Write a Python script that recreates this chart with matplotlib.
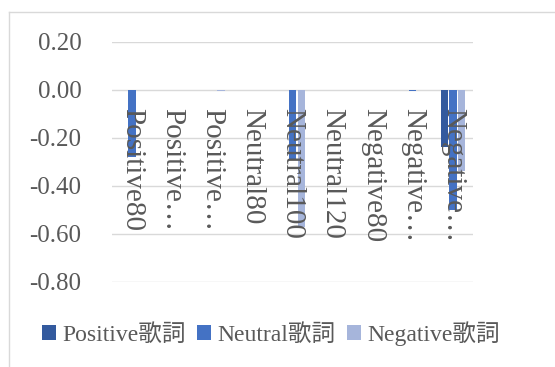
import matplotlib.pyplot as plt
import numpy as np
from matplotlib.lines import Line2D

# Data
tick_labels = ["Positive80", "Positive…", "Positive…", "Neutral80", "Neutral100",
               "Neutral120", "Negative80", "Negative…", "Negative…"]
series_names = ["Positive歌詞", "Neutral歌詞", "Negative歌詞"]
positive_vals = [0.0, 0.0, 0.0, 0.0, 0.0, 0.0, 0.0, 0.0, -0.24]
neutral_vals = [-0.28, 0.0, 0.0, 0.0, -0.29, -0.002, 0.0, -0.004, -0.50]
negative_vals = [0.0, 0.0, -0.004, 0.0, -0.57, -0.003, 0.0, 0.0, -0.34]
y_ticks = [-0.8, -0.6, -0.4, -0.2, 0.0, 0.2]
y_tick_labels = ["-0.80", "-0.60", "-0.40", "-0.20", "0.00", "0.20"]

colors = ["#335A9E", "#4472C4", "#A6B5DB"]
text_color = "#595959"
fonts = ["Liberation Serif", "Noto Sans CJK JP"]
plt.rcParams['font.family'] = fonts

fig = plt.figure(figsize=(5.55, 3.67), dpi=100)
ax = fig.add_axes([0.2018, 0.2324, 0.6505, 0.654])

x = np.arange(len(tick_labels))
width = 0.18
offset = 0.215
for i, vals in enumerate([positive_vals, neutral_vals, negative_vals]):
    ax.bar(x + (i - 1) * offset, vals, width, color=colors[i], label=series_names[i], zorder=2)

ax.set_xlim(-0.5, len(tick_labels) - 0.5)
ax.set_ylim(-0.8, 0.2)
ax.set_yticks(y_ticks)
ax.set_yticklabels(y_tick_labels)
ax.set_axisbelow(True)
ax.grid(axis='y', color='#D9D9D9', linewidth=1.0)

for s in ax.spines.values():
    s.set_visible(False)
ax.spines['bottom'].set_position(('data', 0))

# category labels sit on the zero line, drawn above the bars
ax.set_xticks(x)
ax.set_xticklabels(tick_labels, rotation=270, va='top', ha='center')
ax.xaxis.set_zorder(4)
ax.tick_params(axis='x', length=0, pad=13, labelsize=21, labelcolor=text_color)
ax.tick_params(axis='y', length=0, pad=22, labelsize=18, labelcolor=text_color)

leg = ax.legend(loc='center', bbox_to_anchor=(0.44, -0.215), ncol=3, frameon=False,
                handlelength=0.6, handleheight=0.6, handletextpad=0.25, columnspacing=0.5,
                prop={'family': fonts, 'size': 17})
for t in leg.get_texts():
    t.set_color(text_color)

# chart frame (cropped on right and bottom)
fig.add_artist(Line2D([9 / 555, 9 / 555], [0, 1 - 12 / 367], color='#D9D9D9', lw=1))
fig.add_artist(Line2D([9 / 555, 1], [1 - 12 / 367, 1 - 12 / 367], color='#D9D9D9', lw=1))

plt.savefig('out.png', dpi=100)
